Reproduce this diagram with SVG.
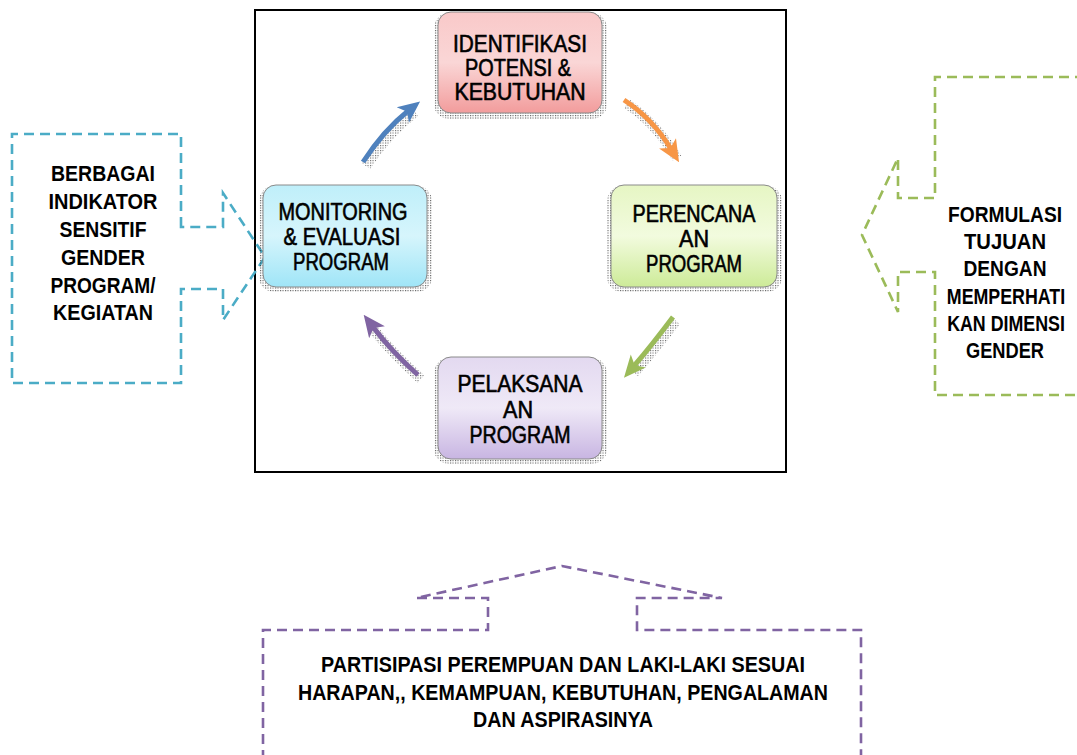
<svg xmlns="http://www.w3.org/2000/svg" width="1077" height="755" viewBox="0 0 1077 755">
  <style>
    .node-text { font-family: "Liberation Sans", Arial, sans-serif; font-size: 23px; fill: #000; stroke: #000; stroke-width: 0.6; text-anchor: middle; }
    .call-text { font-family: "Liberation Sans", Arial, sans-serif; font-size: 22px; font-weight: bold; fill: #000; text-anchor: middle; }
    .box { stroke: #8a8a8a; stroke-width: 1; }
    .shadow { fill: url(#dots); opacity: 0.75; }
    .dash { fill: none; stroke-width: 2.6; stroke-dasharray: 10 6; }
    .shaft { fill: none; stroke-width: 5; stroke-linecap: butt; }
    .shaft-shadow { fill: none; stroke: url(#dots); stroke-width: 10; opacity: 0.7; }
  </style>
  <defs>
    <pattern id="dots" width="2.5" height="2.5" patternUnits="userSpaceOnUse">
      <rect width="1.1" height="1.1" fill="#222"/>
    </pattern>
    <linearGradient id="gPink" x1="0" y1="0" x2="0" y2="1">
      <stop offset="0" stop-color="#F9C9C9"/>
      <stop offset="0.5" stop-color="#FAD6D6"/>
      <stop offset="1" stop-color="#F29C9C"/>
    </linearGradient>
    <linearGradient id="gGreen" x1="0" y1="0" x2="0" y2="1">
      <stop offset="0" stop-color="#E6F6C4"/>
      <stop offset="0.5" stop-color="#F2FBDE"/>
      <stop offset="1" stop-color="#CDEB98"/>
    </linearGradient>
    <linearGradient id="gPurple" x1="0" y1="0" x2="0" y2="1">
      <stop offset="0" stop-color="#E3D9F0"/>
      <stop offset="0.5" stop-color="#EFE9F7"/>
      <stop offset="1" stop-color="#C8B5E2"/>
    </linearGradient>
    <linearGradient id="gBlue" x1="0" y1="0" x2="0" y2="1">
      <stop offset="0" stop-color="#BFEFFA"/>
      <stop offset="0.5" stop-color="#D6F5FC"/>
      <stop offset="1" stop-color="#9FE5F7"/>
    </linearGradient>
    <marker id="ahBlue" viewBox="0 0 20 20" refX="6" refY="10" markerWidth="22" markerHeight="22" markerUnits="userSpaceOnUse" orient="auto">
      <path d="M0,1 L20,10 L0,19 L5,10 Z" fill="#4F81BD"/>
    </marker>
    <marker id="ahOrange" viewBox="0 0 20 20" refX="6" refY="10" markerWidth="22" markerHeight="22" markerUnits="userSpaceOnUse" orient="auto">
      <path d="M0,1 L20,10 L0,19 L5,10 Z" fill="#F79646"/>
    </marker>
    <marker id="ahGreen" viewBox="0 0 20 20" refX="6" refY="10" markerWidth="22" markerHeight="22" markerUnits="userSpaceOnUse" orient="auto">
      <path d="M0,1 L20,10 L0,19 L5,10 Z" fill="#9BBB59"/>
    </marker>
    <marker id="ahPurple" viewBox="0 0 20 20" refX="6" refY="10" markerWidth="22" markerHeight="22" markerUnits="userSpaceOnUse" orient="auto">
      <path d="M0,1 L20,10 L0,19 L5,10 Z" fill="#8064A2"/>
    </marker>
  </defs>

  <rect width="1077" height="755" fill="#fff"/>

  <!-- main frame -->
  <rect id="frame" x="255" y="10" width="531" height="462" fill="#fff" stroke="#000" stroke-width="2"/>

  <!-- callout: left -->
  <g id="callout-indikator">
    <path class="dash" stroke="#4BACC6" d="M181,227 L181,134 L12,134 L12,383 L181,383 L181,289 L223,289 L223,320 L265,257 L223,193 L223,227 Z"/>
    <text class="call-text" x="103" y="181" textLength="104" lengthAdjust="spacingAndGlyphs">BERBAGAI</text>
    <text class="call-text" x="103" y="209" textLength="109" lengthAdjust="spacingAndGlyphs">INDIKATOR</text>
    <text class="call-text" x="103" y="237" textLength="87" lengthAdjust="spacingAndGlyphs">SENSITIF</text>
    <text class="call-text" x="103" y="265" textLength="84" lengthAdjust="spacingAndGlyphs">GENDER</text>
    <text class="call-text" x="103" y="293" textLength="105" lengthAdjust="spacingAndGlyphs">PROGRAM/</text>
    <text class="call-text" x="103" y="320" textLength="100" lengthAdjust="spacingAndGlyphs">KEGIATAN</text>
  </g>

  <!-- callout: right -->
  <g id="callout-formulasi">
    <path class="dash" stroke="#9BBB59" d="M1085,77 L935,77 L935,198 L898,198 L898,158 L862,235 L898,312 L898,272 L935,272 L935,395 L1085,395"/>
    <text class="call-text" x="1005" y="222" textLength="114" lengthAdjust="spacingAndGlyphs">FORMULASI</text>
    <text class="call-text" x="1005" y="249" textLength="82" lengthAdjust="spacingAndGlyphs">TUJUAN</text>
    <text class="call-text" x="1005" y="276" textLength="83" lengthAdjust="spacingAndGlyphs">DENGAN</text>
    <text class="call-text" transform="translate(1006,304) scale(0.81,1)" x="0" y="0">MEMPERHATI</text>
    <text class="call-text" transform="translate(1006,331) scale(0.81,1)" x="0" y="0">KAN DIMENSI</text>
    <text class="call-text" x="1005" y="358" textLength="78" lengthAdjust="spacingAndGlyphs">GENDER</text>
  </g>

  <!-- callout: bottom -->
  <g id="callout-partisipasi">
    <path class="dash" stroke="#8064A2" d="M263,760 L263,630 L488,630 L488,598 L416,598 L562,566 L722,598 L637,598 L637,630 L861,630 L861,760"/>
    <text class="call-text" x="563" y="672" textLength="484" lengthAdjust="spacingAndGlyphs">PARTISIPASI PEREMPUAN DAN LAKI-LAKI SESUAI</text>
    <text class="call-text" x="563" y="700" textLength="530" lengthAdjust="spacingAndGlyphs">HARAPAN,, KEMAMPUAN, KEBUTUHAN, PENGALAMAN</text>
    <text class="call-text" x="563" y="727" textLength="180" lengthAdjust="spacingAndGlyphs">DAN ASPIRASINYA</text>
  </g>

  <!-- connectors -->
  <g id="connectors">
    <path class="shaft-shadow" d="M366,166 Q387,134 415,112"/>
    <path class="shaft-shadow" d="M627,104 Q655,122 677,158"/>
    <path class="shaft-shadow" d="M676,321 Q655,349 634,373"/>
    <path class="shaft-shadow" d="M421,379 Q395,356 372,328"/>
    <path class="shaft" stroke="#4F81BD" marker-end="url(#ahBlue)" d="M363,162 Q384,130 408,111"/>
    <path class="shaft" stroke="#F79646" marker-end="url(#ahOrange)" d="M624,100 Q652,118 671,149"/>
    <path class="shaft" stroke="#9BBB59" marker-end="url(#ahGreen)" d="M673,317 Q652,345 634,366"/>
    <path class="shaft" stroke="#8064A2" marker-end="url(#ahPurple)" d="M418,375 Q392,352 373,327"/>
  </g>

  <!-- nodes -->
  <g id="node-identifikasi">
    <rect class="shadow" x="434" y="13" width="173" height="106" rx="15"/>
    <rect class="box" x="438" y="12" width="164" height="101" rx="13" fill="url(#gPink)"/>
    <text class="node-text" x="520" y="52" textLength="134" lengthAdjust="spacingAndGlyphs">IDENTIFIKASI</text>
    <text class="node-text" x="518" y="76" textLength="106" lengthAdjust="spacingAndGlyphs">POTENSI &amp;</text>
    <text class="node-text" x="520" y="100" textLength="131" lengthAdjust="spacingAndGlyphs">KEBUTUHAN</text>
  </g>

  <g id="node-perencanaan">
    <rect class="shadow" x="607" y="186" width="175" height="106" rx="15"/>
    <rect class="box" x="611" y="185" width="166" height="102" rx="13" fill="url(#gGreen)"/>
    <text class="node-text" x="694" y="222" textLength="123" lengthAdjust="spacingAndGlyphs">PERENCANA</text>
    <text class="node-text" x="694" y="247" textLength="30" lengthAdjust="spacingAndGlyphs">AN</text>
    <text class="node-text" x="694" y="272" textLength="96" lengthAdjust="spacingAndGlyphs">PROGRAM</text>
  </g>

  <g id="node-pelaksanaan">
    <rect class="shadow" x="434" y="358" width="173" height="106" rx="15"/>
    <rect class="box" x="438" y="357" width="164" height="102" rx="13" fill="url(#gPurple)"/>
    <text class="node-text" x="520" y="392" textLength="125" lengthAdjust="spacingAndGlyphs">PELAKSANA</text>
    <text class="node-text" x="518" y="418" textLength="30" lengthAdjust="spacingAndGlyphs">AN</text>
    <text class="node-text" x="520" y="443" textLength="101" lengthAdjust="spacingAndGlyphs">PROGRAM</text>
  </g>

  <g id="node-monitoring">
    <rect class="shadow" x="259" y="186" width="173" height="106" rx="15"/>
    <rect class="box" x="263" y="185" width="164" height="102" rx="13" fill="url(#gBlue)"/>
    <text class="node-text" x="343" y="220" textLength="129" lengthAdjust="spacingAndGlyphs">MONITORING</text>
    <text class="node-text" x="342" y="245" textLength="117" lengthAdjust="spacingAndGlyphs">&amp; EVALUASI</text>
    <text class="node-text" x="341" y="270" textLength="96" lengthAdjust="spacingAndGlyphs">PROGRAM</text>
  </g>
</svg>
